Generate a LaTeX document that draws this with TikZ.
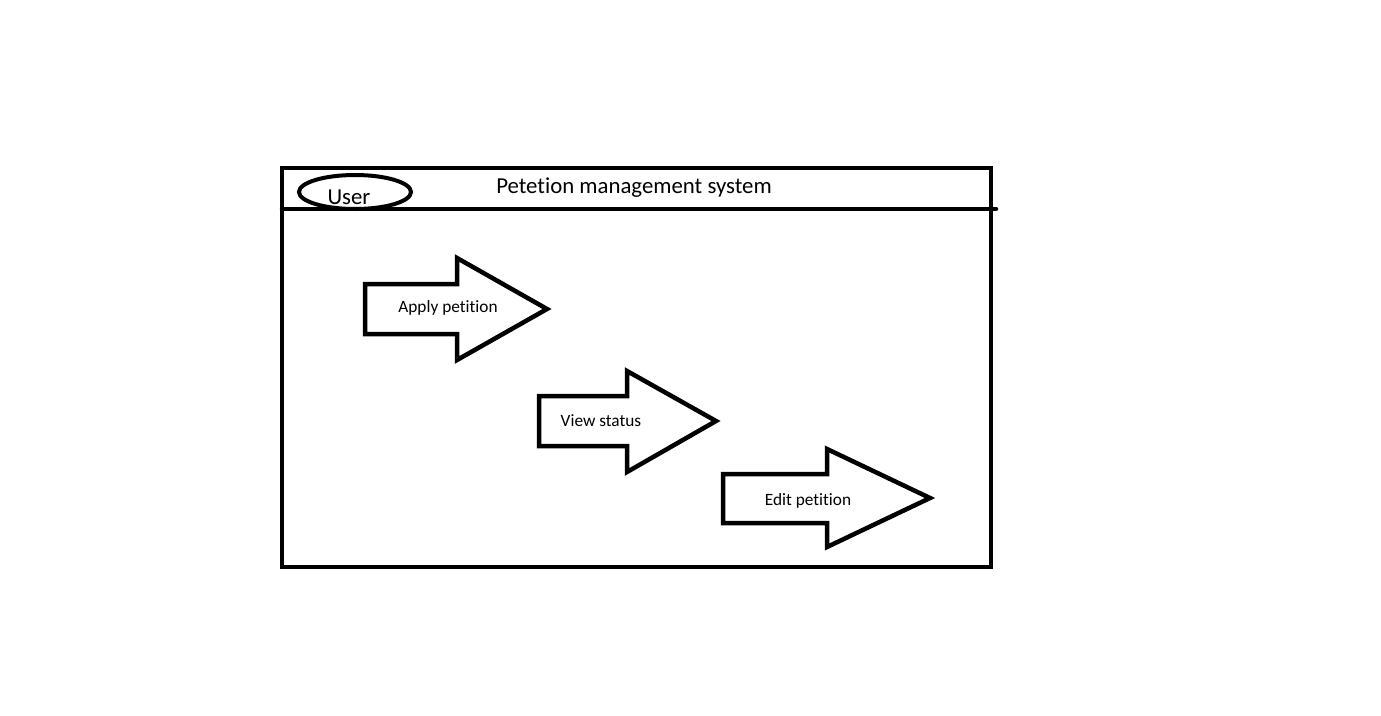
\documentclass[tikz,border=0pt]{standalone}
\usepackage{fontspec}
\setmainfont{Carlito}[Ligatures=NoCommon]
\begin{document}
\begin{tikzpicture}[x=1pt,y=-1pt,
  frame/.style={draw=black,line width=4.5pt},
  bigarrow/.style={draw=black,line width=4.5pt,fill=white,line join=miter},
  lbl/.style={font=\fontsize{17.3}{20}\selectfont,inner sep=0pt},
  hdr/.style={font=\fontsize{22.8}{26}\selectfont,inner sep=0pt}]
\useasboundingbox (0,0) rectangle (1381,715);
\fill[white] (0,0) rectangle (1381,715);
% outer frame
\draw[frame] (282,168) rectangle (991,567);
\coordinate (hl) at (282,209);
\coordinate (hr) at (996,209);
\draw[frame,line cap=round] (hl) -- (hr);
% user ellipse
\draw[line width=4pt] (355,192) ellipse [x radius=56, y radius=17];
\node[hdr] (user) at (349,197) {User};
\node[hdr] (title) at (634,188) {Petetion management system};
% arrows
\draw[bigarrow] (365,284) -- (457,284) -- (457,258) -- (547,309) -- (457,360) -- (457,334) -- (365,334) -- cycle;
\node[lbl] (a1) at (448,308) {Apply petition};
\draw[bigarrow] (539,396) -- (627,396) -- (627,371) -- (716,421) -- (627,472) -- (627,446) -- (539,446) -- cycle;
\node[lbl] (a2) at (601,421) {View status};
\draw[bigarrow] (723,474) -- (827,474) -- (827,449) -- (930,498) -- (827,547) -- (827,523) -- (723,523) -- cycle;
\node[lbl] (a3) at (808,501) {Edit petition};
\end{tikzpicture}
\end{document}
